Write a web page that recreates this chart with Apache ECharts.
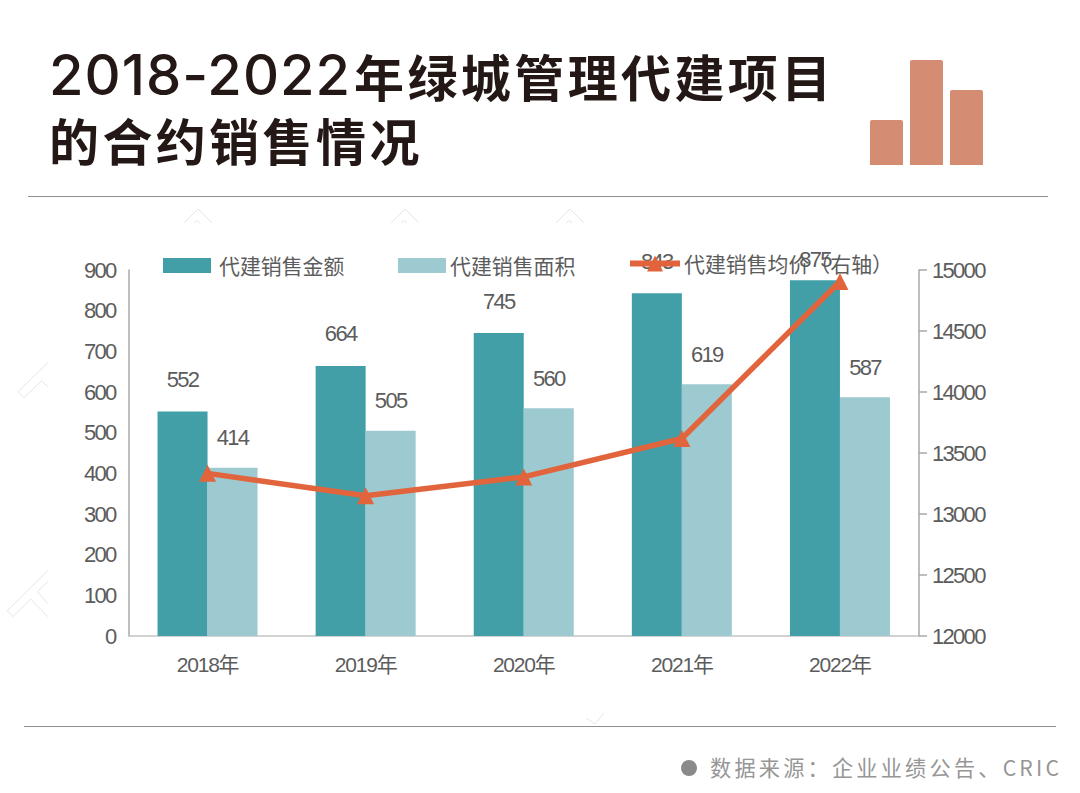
<!DOCTYPE html>
<html><head><meta charset="utf-8">
<style>
html,body{margin:0;padding:0;background:#fff}
#c{width:1080px;height:793px}
#c svg text[style*="50px"]{letter-spacing:3.4px}
#c svg text[style*="56px"]{letter-spacing:1px}
#c svg text[style*="21.2px"]{letter-spacing:3.2px}
#c svg text[style*="21px"]{letter-spacing:-1.2px}
#c svg text[style*="22px"]{letter-spacing:-1.7px}
</style>
<script src="https://cdn.jsdelivr.net/npm/echarts@6/dist/echarts.min.js"></script>
</head><body><div id="c"></div>
<script>
const categories = ['2018年','2019年','2020年','2021年','2022年'];
const salesAmount = [552,664,745,843,875];
const salesArea = [414,505,560,619,587];
const avgPrice = [13333,13149,13304,13619,14906];
const leftTicks = {min:0,max:900,interval:100};
const rightTicks = {min:12000,max:15000,interval:500};
const titleYears = '2018-2022';
const titleLine1 = '年绿城管理代建项目';
const titleLine2 = '的合约销售情况';
const sourceText = '数据来源：企业业绩公告、CRIC';
const iconHeights = [45,105,75];

const NUM = '"Liberation Sans","Noto Sans CJK SC",sans-serif';
const CJK = '"Noto Sans CJK SC",sans-serif';
const TXT = '#5c5c5c', AXIS = '#a8a8a8';
const TEAL = '#429fa8', LIGHT = '#9ccad0', ORANGE = '#e2643c', ICON = '#d48d73';
const INK = '#231815';

function rule(x1,x2,y){return {type:'line',shape:{x1,y1:y,x2,y2:y},style:{stroke:'#8f8f8f',lineWidth:1}};}
function mark(points){return {type:'polyline',shape:{points},style:{stroke:'#e6e6e6',lineWidth:1,fill:null},silent:true};}
function roof(x){return [mark([[x-14,223],[x,209],[x+14,223]]),mark([[x-4,223],[x-1,220.5],[x+2,223]])];}

const graphic = [
 {type:'text',left:49,top:47,style:{text:`{d|${titleYears}}{c|${titleLine1}}`,fill:INK,
   rich:{d:{font:'500 56px Inter,sans-serif',fill:INK,padding:[0,12,0,0]},c:{font:'700 50px "Noto Sans CJK SC",sans-serif',fill:INK}}}},
 {type:'text',left:49,top:114,style:{text:titleLine2,font:'700 50px "Noto Sans CJK SC",sans-serif',fill:INK}},
 rule(28,1048,196.5), rule(24,1056,726.5),
 ...iconHeights.map((h,i)=>({type:'rect',shape:{x:870+40*i,y:165-h,width:33,height:h,r:[2,2,0,0]},style:{fill:ICON}})),
 {type:'circle',shape:{cx:689,cy:768,r:8},style:{fill:'#8a8a8a'}},
 {type:'text',left:710,top:756,style:{text:sourceText,font:'400 21.2px "Noto Sans CJK SC",sans-serif',fill:'#969696'}},
 ...roof(198),...roof(405),...roof(570),
 mark([[48,362.7],[18,391.7],[24,397.7],[41.7,380.7],[47.7,386.7]]),
 mark([[47.7,570.7],[7.3,610.7],[12.7,616.7],[30.7,599],[47.7,616.7]]),
 mark([[47.7,581.7],[37.3,591.7],[47.7,603.3]]),
 mark([[586,718],[595,724],[604,713]])
];

const legendText = {fontFamily:CJK,fontSize:20.9,color:TXT};
const option = {
 animation:false,
 backgroundColor:'#fff',
 grid:{left:128.5,right:161,top:270,bottom:157},
 legend:[
  {data:['代建销售金额'],left:158,top:250,icon:'rect',itemWidth:48,itemHeight:15,itemGap:0,textStyle:{...legendText,padding:[0,0,0,3]}},
  {data:['代建销售面积'],left:393,top:250,icon:'rect',itemWidth:48,itemHeight:15,itemGap:0,textStyle:{...legendText,padding:[0,0,0,-1]}},
  {data:['代建销售均价（右轴）'],left:622,top:248,itemWidth:50,itemHeight:20,itemGap:0,lineStyle:{width:6},textStyle:{...legendText,padding:[0,0,0,-1]}}
 ],
 xAxis:{type:'category',data:categories,
  axisLine:{lineStyle:{color:'#c4c4c4',width:1.5}},axisTick:{show:false},
  axisLabel:{fontFamily:NUM,fontSize:21,color:TXT,margin:18}},
 yAxis:[
  {type:'value',...leftTicks,splitLine:{show:false},
   axisLine:{show:true,lineStyle:{color:AXIS,width:1.5}},axisTick:{show:false},
   axisLabel:{fontFamily:NUM,fontSize:22,color:TXT,margin:13,padding:[0,0,3,0],formatter:v=>String(v)}},
  {type:'value',...rightTicks,position:'right',splitLine:{show:false},
   axisLine:{show:true,lineStyle:{color:AXIS,width:1.5}},axisTick:{show:true,length:8,lineStyle:{color:AXIS,width:1.5}},
   axisLabel:{fontFamily:NUM,fontSize:22,color:TXT,margin:13,padding:[0,0,3,0],formatter:v=>String(v)}}
 ],
 series:[
  {name:'代建销售金额',type:'bar',data:salesAmount.map((v,i)=>i===4?{value:v,label:{distance:10}}:v),barWidth:50,barGap:'0%',itemStyle:{color:TEAL},
   label:{show:true,position:'top',distance:21,fontFamily:NUM,fontSize:22,color:TXT}},
  {name:'代建销售面积',type:'bar',data:salesArea,barWidth:50,itemStyle:{color:LIGHT},
   label:{show:true,position:'top',distance:19,fontFamily:NUM,fontSize:22,color:TXT}},
  {name:'代建销售均价（右轴）',type:'line',yAxisIndex:1,data:avgPrice,symbol:'triangle',symbolSize:17,
   lineStyle:{color:ORANGE,width:5.5},itemStyle:{color:ORANGE},z:5}
 ],
 graphic
};
const chart = echarts.init(document.getElementById('c'),null,{renderer:'svg'});
chart.setOption(option);
</script></body></html>
